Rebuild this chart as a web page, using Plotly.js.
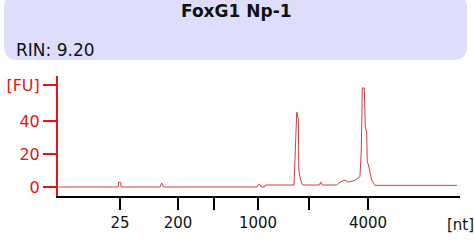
<!DOCTYPE html>
<html>
<head>
<meta charset="utf-8">
<script src="https://cdn.plot.ly/plotly-3.0.1.min.js"></script>
<style>html,body{margin:0;padding:0;background:#fff;}#chart{width:474px;height:243px;}</style>
</head>
<body>
<div id="chart"></div>
<script>
// Electropherogram: migration time (s) vs fluorescence (FU)
var timeSec = [17.13, 24.80, 24.83, 25.11, 25.15, 30.19, 30.41, 30.64, 42.74, 42.91, 43.13, 43.26, 43.71, 43.84,
  47.53, 47.66, 47.88, 48.09, 48.15, 48.30, 48.52, 48.69, 50.82, 50.98, 51.19, 53.05, 53.48, 54.12, 54.51,
  54.99, 55.42, 55.84, 56.06, 56.23, 56.36, 56.62, 56.75, 56.93, 57.00, 57.13, 57.36, 57.58, 58.00, 68.61];
var fluorFU = [0, 0, 2.85, 2.85, 0, 0, 2.4, 0, 0, 1.6, 1.5, 0, 0, 1.2,
  1.2, 18.2, 45.5, 41.2, 10.3, 6.2, 2.4, 1.2, 1.2, 3.0, 1.2, 1.2, 3.0, 4.2, 3.0,
  3.5, 4.2, 5.6, 6.2, 22.4, 60, 60, 36.5, 32.7, 15.3, 13.9, 8.5, 4.2, 1.0, 1.0];
var sizeTickPos = [25.02, 32.52, 37.18, 42.87, 49.47, 57.10];
var sizeTickLabels = ['25', '200', '', '1000', '', '4000'];
var fuTickVals = [0, 20, 40, 61.8];
var fuTickLabels = ['0', '20', '40', '[FU]'];
var sampleTitle = 'FoxG1 Np-1';
var rinText = 'RIN: 9.20';
var xUnitLabel = '[nt]';

var W = 474, H = 243, ML = 58, MR = 14, MT = 76, MB = 47;
var PW = W - ML - MR, PH = H - MT - MB;
function px(x) { return (x - ML) / PW; }
function py(y) { return (H - MB - y) / PH; }

// rounded header box path in paper coords
function roundRect(x0, y0, x1, y1, r) {
  return 'M' + px(x0 + r) + ',' + py(y0) +
    ' L' + px(x1 - r) + ',' + py(y0) +
    ' Q' + px(x1) + ',' + py(y0) + ' ' + px(x1) + ',' + py(y0 + r) +
    ' L' + px(x1) + ',' + py(y1 - r) +
    ' Q' + px(x1) + ',' + py(y1) + ' ' + px(x1 - r) + ',' + py(y1) +
    ' L' + px(x0 + r) + ',' + py(y1) +
    ' Q' + px(x0) + ',' + py(y1) + ' ' + px(x0) + ',' + py(y1 - r) +
    ' L' + px(x0) + ',' + py(y0 + r) +
    ' Q' + px(x0) + ',' + py(y0) + ' ' + px(x0 + r) + ',' + py(y0) + ' Z';
}

var red = 'rgb(232,20,20)';
var font = 'DejaVu Sans, Verdana, sans-serif';

var trace = {
  x: timeSec, y: fluorFU, type: 'scatter', mode: 'lines',
  line: {color: 'rgb(214,60,64)', width: 1}, hoverinfo: 'skip'
};

var layout = {
  width: W, height: H,
  margin: {l: ML, r: MR, t: MT, b: MB, pad: 0},
  paper_bgcolor: '#ffffff', plot_bgcolor: '#ffffff',
  showlegend: false,
  xaxis: {
    range: [17, 69], showgrid: false, zeroline: false,
    showline: true, linecolor: '#000000', linewidth: 2,
    tickmode: 'array', tickvals: sizeTickPos, ticktext: sizeTickLabels,
    ticks: 'outside', ticklen: 12, tickwidth: 2, tickcolor: '#000000',
    tickfont: {family: font, size: 15, color: '#111111'}
  },
  yaxis: {
    range: [-5.45, 67.3], showgrid: false, zeroline: false,
    showline: true, linecolor: red, linewidth: 2,
    tickmode: 'array', tickvals: fuTickVals, ticktext: fuTickLabels,
    ticks: 'outside', ticklen: 13, tickwidth: 2, tickcolor: red,
    tickfont: {family: font, size: 16, color: red}
  },
  shapes: [{
    type: 'path', xref: 'paper', yref: 'paper', layer: 'below',
    path: roundRect(4, -6, 467, 60, 14),
    fillcolor: 'rgb(222,222,252)', line: {width: 0}
  }],
  annotations: [
    {text: '<b>' + sampleTitle + '</b>', xref: 'paper', yref: 'paper', x: px(236), y: py(11),
     xanchor: 'center', yanchor: 'middle', showarrow: false,
     font: {family: font, size: 17, color: '#111111'}},
    {text: rinText, xref: 'paper', yref: 'paper', x: px(14), y: py(50),
     xanchor: 'left', yanchor: 'middle', showarrow: false,
     font: {family: font, size: 17, color: '#111111'}},
    {text: xUnitLabel, xref: 'paper', yref: 'paper', x: px(460), y: py(225),
     xanchor: 'center', yanchor: 'middle', showarrow: false,
     font: {family: font, size: 15, color: '#111111'}}
  ]
};

Plotly.newPlot('chart', [trace], layout, {displayModeBar: false, staticPlot: true});
</script>
</body>
</html>
